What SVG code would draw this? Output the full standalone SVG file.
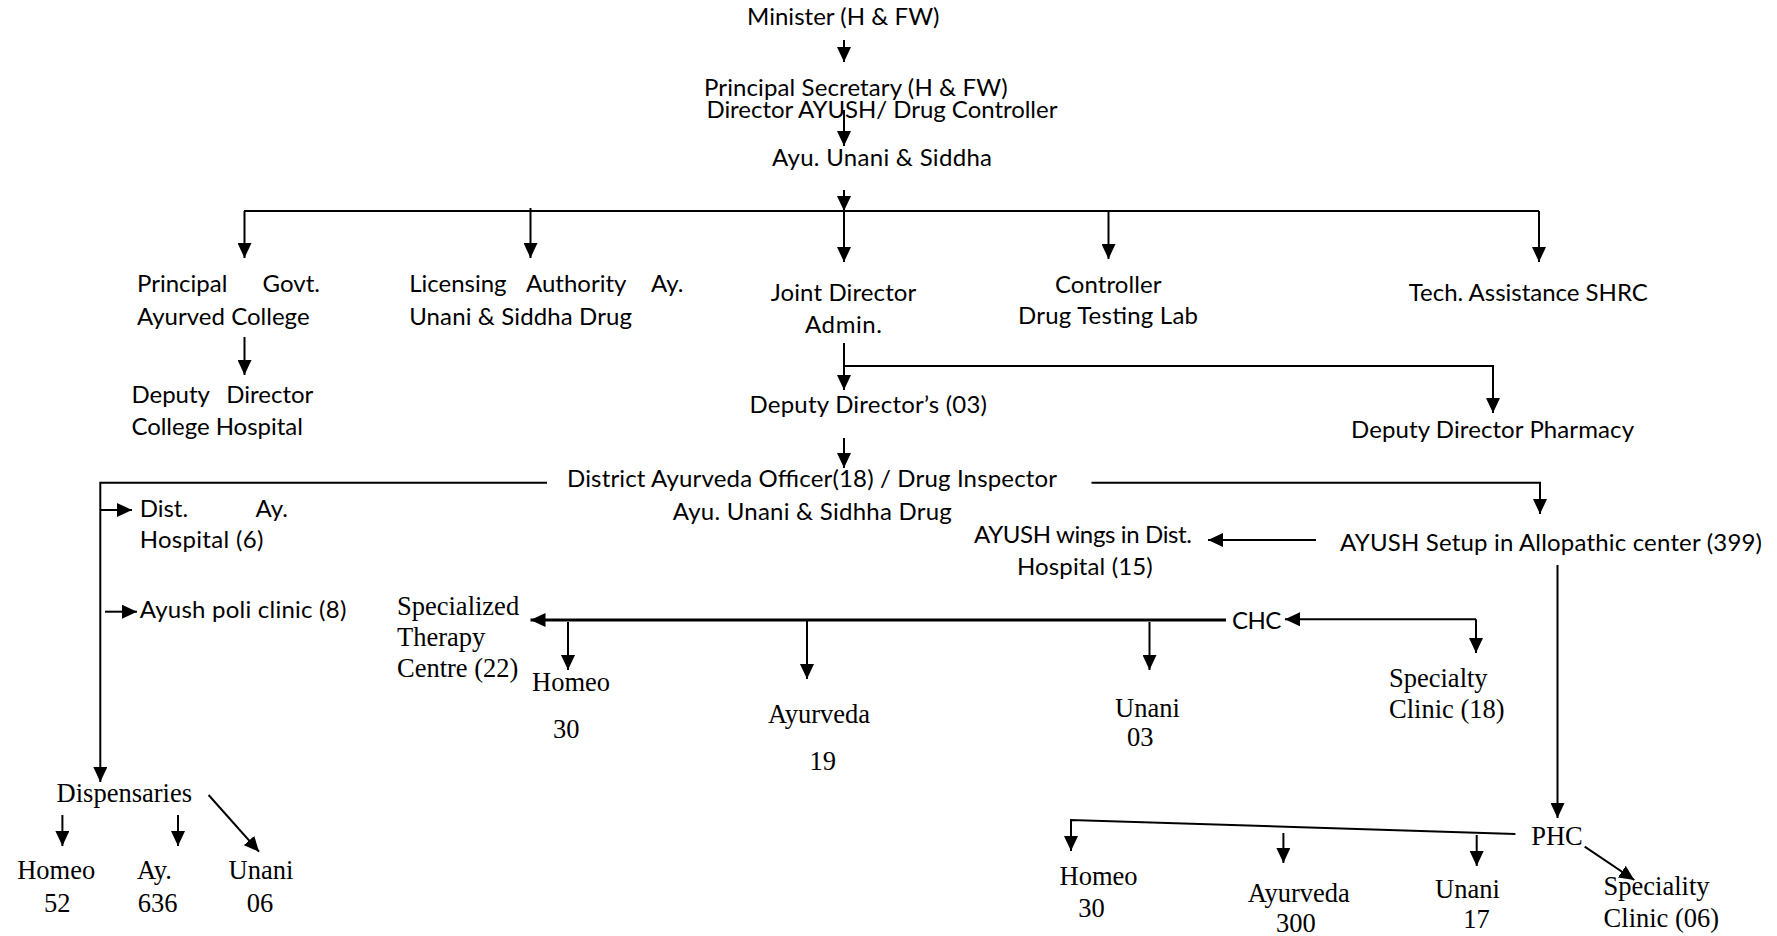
<svg xmlns="http://www.w3.org/2000/svg" width="1777" height="936" viewBox="0 0 1777 936">
<style>
.s{font-family:Lato,"Open Sans","Liberation Sans",sans-serif;font-size:24px;fill:#000}
.t{font-family:"Liberation Serif","Times New Roman",serif;font-size:26.5px;fill:#000}
.c{stroke:#000;stroke-width:2;fill:none}
.k{stroke:#000;stroke-width:3;fill:none}
.a{marker-end:url(#ah)}
</style>
<defs>
<marker id="ah" viewBox="0 0 15 14" refX="15" refY="7" markerWidth="15" markerHeight="14" markerUnits="userSpaceOnUse" orient="auto">
<path d="M0,0 L15,7 L0,14 z" fill="#000"/>
</marker>
</defs>
<rect width="1777" height="936" fill="#fff"/>
<g id="connectors">
<path class="c a" d="M844,40 V62"/>
<path class="c a" d="M844,110 V146"/>
<path class="c a" d="M844,190 V211"/>
<path class="c" d="M244,211 H1539"/>
<path class="c a" d="M244.5,211 V258"/>
<path class="c a" d="M530.5,208 V258"/>
<path class="c a" d="M844,211 V262"/>
<path class="c a" d="M1108.5,211 V259"/>
<path class="c a" d="M1539,211 V262"/>
<path class="c a" d="M244.5,337 V375"/>
<path class="c a" d="M844,343 V390"/>
<path class="c a" d="M844,366 H1493 V413"/>
<path class="c a" d="M844,438 V468"/>
<path class="c a" d="M547,482.7 H100.3 V782"/>
<path class="c a" d="M100.3,510 H132"/>
<path class="c a" d="M105,611.7 H137"/>
<path class="c a" d="M1091.5,482.7 H1540 V514"/>
<path class="c a" d="M1316,540 H1208"/>
<path class="c a" d="M1557.5,565 V818"/>
<path class="k a" d="M1226,620 H530.5"/>
<path class="c a" d="M568,622 V670"/>
<path class="c a" d="M807,620 V679"/>
<path class="c a" d="M1149.5,622 V670"/>
<path class="c a" d="M1476,619.3 H1285"/>
<path class="c a" d="M1476,619.3 V653"/>
<path class="c a" d="M62.4,815 V846"/>
<path class="c a" d="M178,815 V846"/>
<path class="c a" d="M208.6,795 L259,851.7"/>
<path class="c a" d="M1515.4,834 L1071,820 V851"/>
<path class="c a" d="M1283.4,833 V863"/>
<path class="c a" d="M1476.7,835 V866"/>
<path class="c a" d="M1584.7,846.7 L1634.3,880"/>
</g>
<g id="minister"><text class="s" x="747" y="25" textLength="192.5">Minister (H &amp; FW)</text></g>
<g id="principal-secretary"><text class="s" x="704" y="96" textLength="303.6">Principal Secretary (H &amp; FW)</text></g>
<g id="director-ayush">
<text class="s" x="706.4" y="118" textLength="351">Director AYUSH/ Drug Controller</text>
<text class="s" x="772" y="165.7" textLength="220">Ayu. Unani &amp; Siddha</text>
</g>
<g id="principal-college">
<text class="s" x="137" y="291.7">Principal</text>
<text class="s" x="262.6" y="291.7">Govt.</text>
<text class="s" x="137" y="325" textLength="172.6">Ayurved College</text>
</g>
<g id="deputy-college">
<text class="s" x="131.4" y="403">Deputy</text>
<text class="s" x="226.3" y="403">Director</text>
<text class="s" x="131.4" y="435" textLength="171.4">College Hospital</text>
</g>
<g id="licensing">
<text class="s" x="409.2" y="291.7">Licensing</text>
<text class="s" x="526" y="291.7">Authority</text>
<text class="s" x="651" y="291.7">Ay.</text>
<text class="s" x="409.2" y="325" textLength="222.8">Unani &amp; Siddha Drug</text>
</g>
<g id="joint-director">
<text class="s" x="770.7" y="301" textLength="145.6">Joint Director</text>
<text class="s" x="805" y="333" textLength="77">Admin.</text>
</g>
<g id="controller">
<text class="s" x="1055" y="292.7" textLength="106.5">Controller</text>
<text class="s" x="1018" y="324" textLength="180">Drug Testing Lab</text>
</g>
<g id="tech-assistance"><text class="s" x="1408.8" y="301" textLength="239">Tech. Assistance SHRC</text></g>
<g id="deputy-directors"><text class="s" x="749.5" y="413" textLength="237.5">Deputy Director’s (03)</text></g>
<g id="deputy-pharmacy"><text class="s" x="1351" y="438" textLength="283">Deputy Director Pharmacy</text></g>
<g id="district-officer">
<text class="s" x="567" y="486.7" textLength="490">District Ayurveda Officer(18) / Drug Inspector</text>
<text class="s" x="672.8" y="520" textLength="279">Ayu. Unani &amp; Sidhha Drug</text>
</g>
<g id="ayush-wings">
<text class="s" x="974" y="543.3" textLength="218">AYUSH wings in Dist.</text>
<text class="s" x="1017" y="575" textLength="135.7">Hospital (15)</text>
</g>
<g id="ayush-setup"><text class="s" x="1340" y="550.7" textLength="422">AYUSH Setup in Allopathic center (399)</text></g>
<g id="dist-hospital">
<text class="s" x="139.7" y="516.7">Dist.</text>
<text class="s" x="255.6" y="516.7">Ay.</text>
<text class="s" x="139.7" y="548" textLength="123.6">Hospital (6)</text>
</g>
<g id="poli-clinic"><text class="s" x="139.7" y="618.3" textLength="206.6">Ayush poli clinic (8)</text></g>
<g id="chc"><text class="s" x="1232" y="629.3" textLength="49.2">CHC</text></g>
<g id="specialized-therapy">
<text class="t" x="397" y="615">Specialized</text>
<text class="t" x="397" y="646">Therapy</text>
<text class="t" x="397" y="677.3">Centre (22)</text>
</g>
<g id="chc-homeo"><text class="t" x="532" y="690.5">Homeo</text><text class="t" x="553" y="737.5">30</text></g>
<g id="chc-ayurveda"><text class="t" x="768" y="722.7">Ayurveda</text><text class="t" x="809.4" y="770">19</text></g>
<g id="chc-unani"><text class="t" x="1115" y="716.7">Unani</text><text class="t" x="1127" y="746">03</text></g>
<g id="chc-specialty"><text class="t" x="1389" y="686.7">Specialty</text><text class="t" x="1389" y="718.3">Clinic (18)</text></g>
<g id="dispensaries"><text class="t" x="56.6" y="801.7">Dispensaries</text></g>
<g id="disp-homeo"><text class="t" x="17.2" y="879.3">Homeo</text><text class="t" x="44" y="911.7">52</text></g>
<g id="disp-ay"><text class="t" x="137" y="879.3">Ay.</text><text class="t" x="137.8" y="911.7">636</text></g>
<g id="disp-unani"><text class="t" x="228.5" y="879.3">Unani</text><text class="t" x="246.8" y="911.7">06</text></g>
<g id="phc"><text class="t" x="1531.2" y="845">PHC</text></g>
<g id="phc-homeo"><text class="t" x="1059.5" y="885">Homeo</text><text class="t" x="1078.3" y="916.7">30</text></g>
<g id="phc-ayurveda"><text class="t" x="1247.8" y="901.7">Ayurveda</text><text class="t" x="1276" y="931.7">300</text></g>
<g id="phc-unani"><text class="t" x="1435" y="898.3">Unani</text><text class="t" x="1463.3" y="928.3">17</text></g>
<g id="phc-speciality"><text class="t" x="1603.6" y="895">Speciality</text><text class="t" x="1603.6" y="926.7">Clinic (06)</text></g>
</svg>
